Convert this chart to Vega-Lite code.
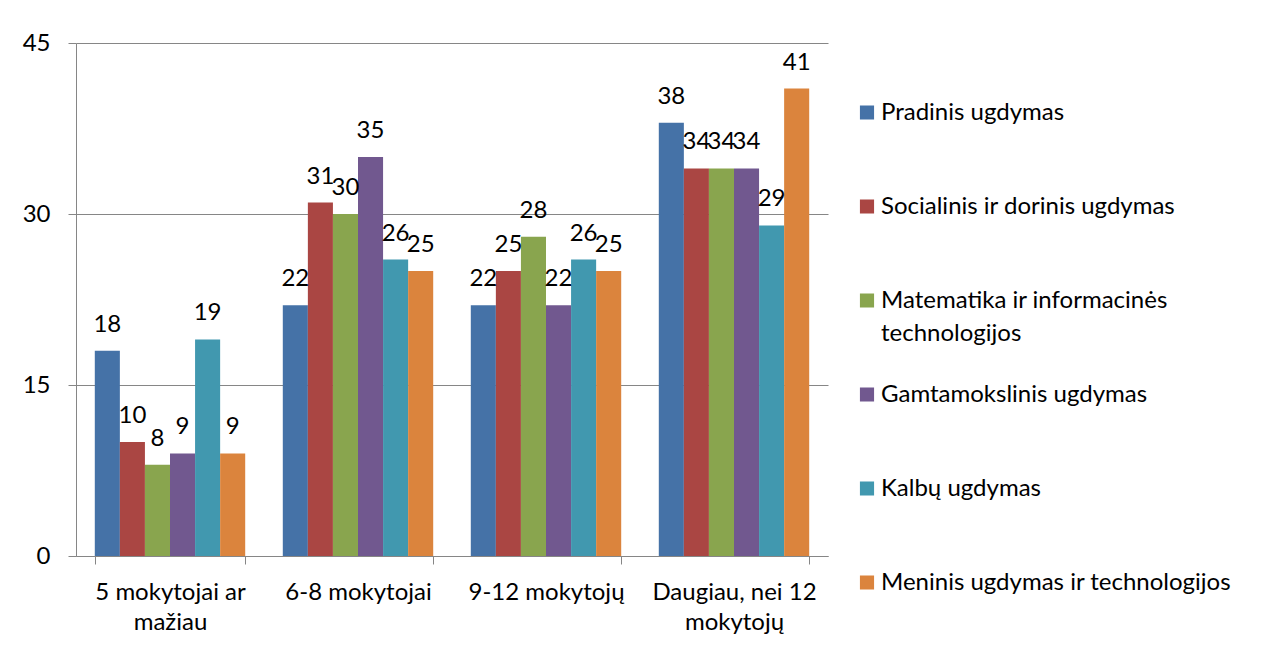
{
  "$schema": "https://vega.github.io/schema/vega-lite/v6.json",
  "width": 752,
  "height": 513,
  "autosize": {"type": "none"},
  "padding": {"left": 76, "top": 43, "right": 444, "bottom": 92},
  "background": "white",
  "config": {
    "view": {"stroke": null},
    "font": "Lato",
    "style": {"guide-label": {"lineHeight": 33}},
    "axis": {"labelFont": "Lato", "labelFontSize": 24, "labelColor": "#000000", "domainColor": "#868686", "tickColor": "#868686", "gridColor": "#868686", "title": null},
    "legend": {"labelFont": "Lato", "labelFontSize": 24, "labelColor": "#000000"}
  },
  "data": {
    "values": [
      {"group": "5 mokytojai ar mažiau", "series": "Pradinis ugdymas", "value": 18},
      {"group": "5 mokytojai ar mažiau", "series": "Socialinis ir dorinis ugdymas", "value": 10},
      {"group": "5 mokytojai ar mažiau", "series": "Matematika ir informacinės technologijos", "value": 8},
      {"group": "5 mokytojai ar mažiau", "series": "Gamtamokslinis ugdymas", "value": 9},
      {"group": "5 mokytojai ar mažiau", "series": "Kalbų ugdymas", "value": 19},
      {"group": "5 mokytojai ar mažiau", "series": "Meninis ugdymas ir technologijos", "value": 9},
      {"group": "6-8 mokytojai", "series": "Pradinis ugdymas", "value": 22},
      {"group": "6-8 mokytojai", "series": "Socialinis ir dorinis ugdymas", "value": 31},
      {"group": "6-8 mokytojai", "series": "Matematika ir informacinės technologijos", "value": 30},
      {"group": "6-8 mokytojai", "series": "Gamtamokslinis ugdymas", "value": 35},
      {"group": "6-8 mokytojai", "series": "Kalbų ugdymas", "value": 26},
      {"group": "6-8 mokytojai", "series": "Meninis ugdymas ir technologijos", "value": 25},
      {"group": "9-12 mokytojų", "series": "Pradinis ugdymas", "value": 22},
      {"group": "9-12 mokytojų", "series": "Socialinis ir dorinis ugdymas", "value": 25},
      {"group": "9-12 mokytojų", "series": "Matematika ir informacinės technologijos", "value": 28},
      {"group": "9-12 mokytojų", "series": "Gamtamokslinis ugdymas", "value": 22},
      {"group": "9-12 mokytojų", "series": "Kalbų ugdymas", "value": 26},
      {"group": "9-12 mokytojų", "series": "Meninis ugdymas ir technologijos", "value": 25},
      {"group": "Daugiau, nei 12 mokytojų", "series": "Pradinis ugdymas", "value": 38},
      {"group": "Daugiau, nei 12 mokytojų", "series": "Socialinis ir dorinis ugdymas", "value": 34},
      {"group": "Daugiau, nei 12 mokytojų", "series": "Matematika ir informacinės technologijos", "value": 34},
      {"group": "Daugiau, nei 12 mokytojų", "series": "Gamtamokslinis ugdymas", "value": 34},
      {"group": "Daugiau, nei 12 mokytojų", "series": "Kalbų ugdymas", "value": 29},
      {"group": "Daugiau, nei 12 mokytojų", "series": "Meninis ugdymas ir technologijos", "value": 41}
    ]
  },
  "encoding": {
    "x": {
      "field": "group",
      "type": "nominal",
      "sort": null,
      "scale": {"paddingInner": 0.2, "paddingOuter": 0.1},
      "axis": {
        "labelAngle": 0,
        "tickBand": "extent",
        "tickSize": 8,
        "labelPadding": 16,
        "labelLineHeight": 30,
        "labelBaseline": "top",
        "domainColor": "#868686",
        "labelExpr": "datum.label == '5 mokytojai ar mažiau' ? ['5 mokytojai ar', 'mažiau'] : datum.label == 'Daugiau, nei 12 mokytojų' ? ['Daugiau, nei 12', 'mokytojų'] : datum.label"
      }
    },
    "xOffset": {
      "field": "series",
      "type": "nominal",
      "sort": null,
      "scale": {"paddingInner": 0, "paddingOuter": 0}
    },
    "y": {
      "field": "value",
      "type": "quantitative",
      "scale": {"domain": [0, 45], "nice": false},
      "axis": {"values": [0, 15, 30, 45], "tickSize": 8, "labelPadding": 18, "grid": true}
    }
  },
  "layer": [
    {
      "mark": {"type": "bar"},
      "encoding": {
        "color": {
          "field": "series",
          "type": "nominal",
          "sort": null,
          "scale": {
            "domain": ["Pradinis ugdymas", "Socialinis ir dorinis ugdymas", "Matematika ir informacinės technologijos", "Gamtamokslinis ugdymas", "Kalbų ugdymas", "Meninis ugdymas ir technologijos"],
            "range": ["#4572A7", "#AA4643", "#89A54E", "#71588F", "#4198AF", "#DB843D"]
          },
          "legend": {
            "title": null,
            "orient": "none",
            "legendX": 779,
            "legendY": 58,
            "padding": 0,
            "symbolType": "square",
            "symbolSize": 200,
            "symbolStrokeWidth": 0,
            "labelOffset": 2,
            "gridAlign": "all",
            "rowPadding": 36,
            "clipHeight": 23,
            "labelLimit": 420,
            "labelExpr": "datum.label == 'Matematika ir informacinės technologijos' ? ['Matematika ir informacinės', 'technologijos'] : datum.label"
          }
        }
      }
    },
    {
      "mark": {"type": "text", "fontSize": 24, "font": "Lato", "color": "#000000", "baseline": "alphabetic", "dy": -19},
      "encoding": {
        "text": {"field": "value", "type": "quantitative"}
      }
    }
  ]
}
